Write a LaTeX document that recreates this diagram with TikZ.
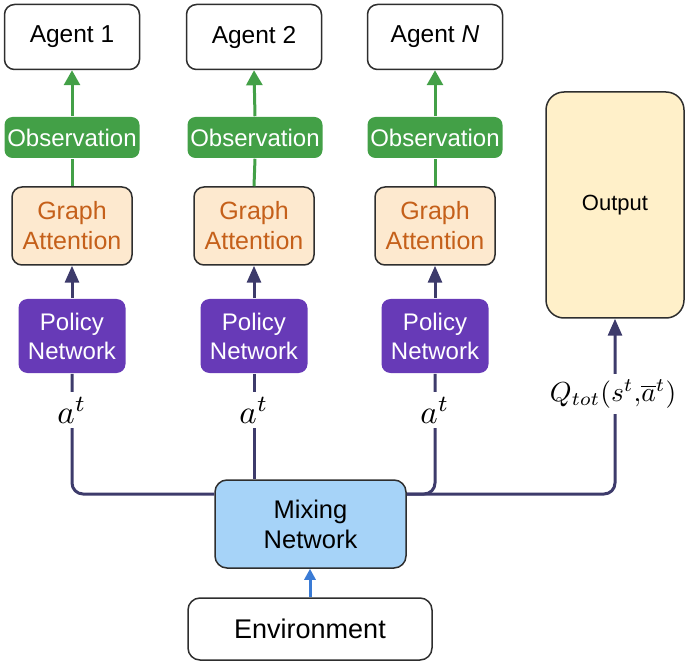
\documentclass[tikz,border=0pt]{standalone}
\usepackage{graphicx}
\usepackage{fontspec}
\setmainfont{Liberation Sans}
\usetikzlibrary{arrows.meta,calc}
\definecolor{obsgreen}{HTML}{43A047}
\definecolor{gafill}{HTML}{FDE9CF}
\definecolor{gatext}{HTML}{C5601A}
\definecolor{polpurple}{HTML}{673AB7}
\definecolor{navy}{HTML}{3D3B6B}
\definecolor{mixfill}{HTML}{A6D3F8}
\definecolor{outfill}{HTML}{FFF0C9}
\definecolor{envblue}{HTML}{3A7BD5}
\definecolor{border}{HTML}{2E2E2E}
\tikzset{
  base/.style={rectangle, align=center, inner sep=0pt, line width=1.5pt},
  agentbox/.style={base, draw=border, fill=white, rounded corners=10pt, minimum width=135pt, minimum height=65pt, font=\fontsize{24.5}{29}\selectfont},
  obsbox/.style={base, fill=obsgreen, text=white, rounded corners=8pt, minimum width=135pt, minimum height=41pt, font=\fontsize{24}{29}\selectfont},
  gabox/.style={base, draw=border, fill=gafill, text=gatext, rounded corners=10pt, minimum width=120pt, minimum height=78pt, font=\fontsize{25}{30}\selectfont},
  polbox/.style={base, fill=polpurple, text=white, rounded corners=9pt, minimum width=107pt, minimum height=74pt, font=\fontsize{24}{29}\selectfont},
  mixbox/.style={base, draw=border, fill=mixfill, rounded corners=12pt, minimum width=191pt, minimum height=88pt, font=\fontsize{25.5}{30}\selectfont},
  envbox/.style={base, draw=border, fill=white, rounded corners=12pt, minimum width=244pt, minimum height=62pt, font=\fontsize{27}{32}\selectfont},
  outbox/.style={base, draw=border, fill=outfill, rounded corners=18pt, minimum width=138pt, minimum height=226pt, font=\fontsize{22}{26}\selectfont},
  greenline/.style={draw=obsgreen, line width=3pt},
  greenarrow/.style={greenline, -{Triangle[width=16pt,length=15pt]}},
  navyline/.style={draw=navy, line width=3pt},
  navyarrow/.style={navyline, -{Triangle[width=14pt,length=17pt]}},
  bluearrow/.style={draw=envblue, line width=3pt, -{Triangle[width=11pt,length=11pt]}},
  mlabel/.style={fill=white, inner sep=5pt},
}
\begin{document}
\begin{tikzpicture}[x=1pt,y=-1pt]
\useasboundingbox (0,0) rectangle (686,663);
% column 1
\node[agentbox] (ag1) at (72,37) {Agent 1};
\node[obsbox] (ob1) at (72,137.5) {Observation};
\node[gabox] (ga1) at (72,226) {Graph\\Attention};
\node[polbox] (po1) at (72,336) {Policy\\Network};
% column 2
\node[agentbox] (ag2) at (254,37) {Agent 2};
\node[obsbox] (ob2) at (255,137.5) {Observation};
\node[gabox] (ga2) at (254,226) {Graph\\Attention};
\node[polbox] (po2) at (254,336) {Policy\\Network};
% column 3
\node[agentbox] (ag3) at (435,37) {Agent \textit{N}};
\node[obsbox] (ob3) at (435,137.5) {Observation};
\node[gabox] (ga3) at (435,226) {Graph\\Attention};
\node[polbox] (po3) at (435,336) {Policy\\Network};
% output, mixing, environment
\node[outbox] (out) at (615,205) {Output};
\node[mixbox] (mix) at (310.5,524) {Mixing\\Network};
\node[envbox] (env) at (310,629) {Environment};
\coordinate (jy) at (0,494);
% vertical chains
\foreach \i in {1,2,3}{
  \draw[greenline] (ga\i.north) -- (ob\i.south);
  \draw[greenarrow] (ob\i.north) -- (ag\i.south);
  \draw[navyarrow] (po\i.north) -- (ga\i.south);
}
% action lines
\draw[navyline, rounded corners=11pt] (mix.west |- jy) -| (po1.south);
\draw[navyline] (po2.south) -- (po2.south |- mix.north);
\draw[navyline, rounded corners=11pt] (mix.east |- jy) -| (po3.south);
\draw[navyarrow, rounded corners=11pt] (mix.east |- jy) -| (out.south);
% labels
\node[mlabel] (l1) at (72,410) {\scalebox{3.3}{$a^t$}};
\node[mlabel] (l2) at (254,410) {\scalebox{3.3}{$a^t$}};
\node[mlabel] (l3) at (435,410) {\scalebox{3.3}{$a^t$}};
\node[mlabel] (lq) at (613,394) {\scalebox{2.75}{$Q_{tot}(s^t{,}\overline{a}^t)$}};
% environment
\draw[bluearrow] (env.north) -- (env.north |- mix.south);
\end{tikzpicture}
\end{document}
